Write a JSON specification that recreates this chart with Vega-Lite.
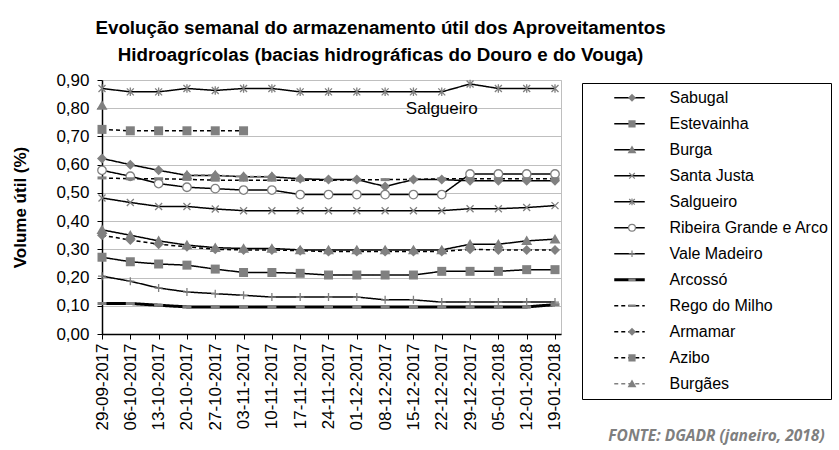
{
  "$schema": "https://vega.github.io/schema/vega-lite/v6.json",
  "width": 459,
  "height": 254,
  "autosize": {"type": "none"},
  "padding": {"left": 102, "top": 80, "right": 278, "bottom": 116},
  "background": "white",
  "title": {
    "text": ["Evolução semanal do armazenamento útil dos Aproveitamentos", "Hidroagrícolas (bacias hidrográficas do Douro e do Vouga)"],
    "font": "Liberation Sans",
    "fontSize": 18.8,
    "fontWeight": "bold",
    "color": "black",
    "anchor": "middle",
    "dx": 49,
    "offset": 6,
    "lineHeight": 27
  },
  "data": {
    "values": [
      {"series": "Sabugal", "date": "29-09-2017", "value": 0.622},
      {"series": "Sabugal", "date": "06-10-2017", "value": 0.600},
      {"series": "Sabugal", "date": "13-10-2017", "value": 0.580},
      {"series": "Sabugal", "date": "20-10-2017", "value": 0.562},
      {"series": "Sabugal", "date": "27-10-2017", "value": 0.562},
      {"series": "Sabugal", "date": "03-11-2017", "value": 0.557},
      {"series": "Sabugal", "date": "10-11-2017", "value": 0.557},
      {"series": "Sabugal", "date": "17-11-2017", "value": 0.550},
      {"series": "Sabugal", "date": "24-11-2017", "value": 0.547},
      {"series": "Sabugal", "date": "01-12-2017", "value": 0.547},
      {"series": "Sabugal", "date": "08-12-2017", "value": 0.523},
      {"series": "Sabugal", "date": "15-12-2017", "value": 0.547},
      {"series": "Sabugal", "date": "22-12-2017", "value": 0.547},
      {"series": "Sabugal", "date": "29-12-2017", "value": 0.543},
      {"series": "Sabugal", "date": "05-01-2018", "value": 0.543},
      {"series": "Sabugal", "date": "12-01-2018", "value": 0.543},
      {"series": "Sabugal", "date": "19-01-2018", "value": 0.543},
      {"series": "Estevainha", "date": "29-09-2017", "value": 0.272},
      {"series": "Estevainha", "date": "06-10-2017", "value": 0.256},
      {"series": "Estevainha", "date": "13-10-2017", "value": 0.248},
      {"series": "Estevainha", "date": "20-10-2017", "value": 0.244},
      {"series": "Estevainha", "date": "27-10-2017", "value": 0.230},
      {"series": "Estevainha", "date": "03-11-2017", "value": 0.218},
      {"series": "Estevainha", "date": "10-11-2017", "value": 0.218},
      {"series": "Estevainha", "date": "17-11-2017", "value": 0.215},
      {"series": "Estevainha", "date": "24-11-2017", "value": 0.209},
      {"series": "Estevainha", "date": "01-12-2017", "value": 0.209},
      {"series": "Estevainha", "date": "08-12-2017", "value": 0.209},
      {"series": "Estevainha", "date": "15-12-2017", "value": 0.209},
      {"series": "Estevainha", "date": "22-12-2017", "value": 0.222},
      {"series": "Estevainha", "date": "29-12-2017", "value": 0.222},
      {"series": "Estevainha", "date": "05-01-2018", "value": 0.222},
      {"series": "Estevainha", "date": "12-01-2018", "value": 0.228},
      {"series": "Estevainha", "date": "19-01-2018", "value": 0.228},
      {"series": "Burga", "date": "29-09-2017", "value": 0.369},
      {"series": "Burga", "date": "06-10-2017", "value": 0.350},
      {"series": "Burga", "date": "13-10-2017", "value": 0.330},
      {"series": "Burga", "date": "20-10-2017", "value": 0.315},
      {"series": "Burga", "date": "27-10-2017", "value": 0.306},
      {"series": "Burga", "date": "03-11-2017", "value": 0.303},
      {"series": "Burga", "date": "10-11-2017", "value": 0.303},
      {"series": "Burga", "date": "17-11-2017", "value": 0.298},
      {"series": "Burga", "date": "24-11-2017", "value": 0.298},
      {"series": "Burga", "date": "01-12-2017", "value": 0.298},
      {"series": "Burga", "date": "08-12-2017", "value": 0.298},
      {"series": "Burga", "date": "15-12-2017", "value": 0.298},
      {"series": "Burga", "date": "22-12-2017", "value": 0.298},
      {"series": "Burga", "date": "29-12-2017", "value": 0.318},
      {"series": "Burga", "date": "05-01-2018", "value": 0.318},
      {"series": "Burga", "date": "12-01-2018", "value": 0.330},
      {"series": "Burga", "date": "19-01-2018", "value": 0.336},
      {"series": "Santa Justa", "date": "29-09-2017", "value": 0.482},
      {"series": "Santa Justa", "date": "06-10-2017", "value": 0.466},
      {"series": "Santa Justa", "date": "13-10-2017", "value": 0.452},
      {"series": "Santa Justa", "date": "20-10-2017", "value": 0.452},
      {"series": "Santa Justa", "date": "27-10-2017", "value": 0.443},
      {"series": "Santa Justa", "date": "03-11-2017", "value": 0.437},
      {"series": "Santa Justa", "date": "10-11-2017", "value": 0.437},
      {"series": "Santa Justa", "date": "17-11-2017", "value": 0.437},
      {"series": "Santa Justa", "date": "24-11-2017", "value": 0.437},
      {"series": "Santa Justa", "date": "01-12-2017", "value": 0.437},
      {"series": "Santa Justa", "date": "08-12-2017", "value": 0.437},
      {"series": "Santa Justa", "date": "15-12-2017", "value": 0.437},
      {"series": "Santa Justa", "date": "22-12-2017", "value": 0.437},
      {"series": "Santa Justa", "date": "29-12-2017", "value": 0.444},
      {"series": "Santa Justa", "date": "05-01-2018", "value": 0.444},
      {"series": "Santa Justa", "date": "12-01-2018", "value": 0.448},
      {"series": "Santa Justa", "date": "19-01-2018", "value": 0.455},
      {"series": "Salgueiro", "date": "29-09-2017", "value": 0.870},
      {"series": "Salgueiro", "date": "06-10-2017", "value": 0.858},
      {"series": "Salgueiro", "date": "13-10-2017", "value": 0.858},
      {"series": "Salgueiro", "date": "20-10-2017", "value": 0.870},
      {"series": "Salgueiro", "date": "27-10-2017", "value": 0.863},
      {"series": "Salgueiro", "date": "03-11-2017", "value": 0.870},
      {"series": "Salgueiro", "date": "10-11-2017", "value": 0.870},
      {"series": "Salgueiro", "date": "17-11-2017", "value": 0.858},
      {"series": "Salgueiro", "date": "24-11-2017", "value": 0.858},
      {"series": "Salgueiro", "date": "01-12-2017", "value": 0.858},
      {"series": "Salgueiro", "date": "08-12-2017", "value": 0.858},
      {"series": "Salgueiro", "date": "15-12-2017", "value": 0.858},
      {"series": "Salgueiro", "date": "22-12-2017", "value": 0.858},
      {"series": "Salgueiro", "date": "29-12-2017", "value": 0.886},
      {"series": "Salgueiro", "date": "05-01-2018", "value": 0.870},
      {"series": "Salgueiro", "date": "12-01-2018", "value": 0.870},
      {"series": "Salgueiro", "date": "19-01-2018", "value": 0.870},
      {"series": "Ribeira Grande e Arco", "date": "29-09-2017", "value": 0.580},
      {"series": "Ribeira Grande e Arco", "date": "06-10-2017", "value": 0.559},
      {"series": "Ribeira Grande e Arco", "date": "13-10-2017", "value": 0.533},
      {"series": "Ribeira Grande e Arco", "date": "20-10-2017", "value": 0.520},
      {"series": "Ribeira Grande e Arco", "date": "27-10-2017", "value": 0.515},
      {"series": "Ribeira Grande e Arco", "date": "03-11-2017", "value": 0.510},
      {"series": "Ribeira Grande e Arco", "date": "10-11-2017", "value": 0.510},
      {"series": "Ribeira Grande e Arco", "date": "17-11-2017", "value": 0.494},
      {"series": "Ribeira Grande e Arco", "date": "24-11-2017", "value": 0.494},
      {"series": "Ribeira Grande e Arco", "date": "01-12-2017", "value": 0.494},
      {"series": "Ribeira Grande e Arco", "date": "08-12-2017", "value": 0.494},
      {"series": "Ribeira Grande e Arco", "date": "15-12-2017", "value": 0.494},
      {"series": "Ribeira Grande e Arco", "date": "22-12-2017", "value": 0.494},
      {"series": "Ribeira Grande e Arco", "date": "29-12-2017", "value": 0.567},
      {"series": "Ribeira Grande e Arco", "date": "05-01-2018", "value": 0.567},
      {"series": "Ribeira Grande e Arco", "date": "12-01-2018", "value": 0.567},
      {"series": "Ribeira Grande e Arco", "date": "19-01-2018", "value": 0.567},
      {"series": "Vale Madeiro", "date": "29-09-2017", "value": 0.205},
      {"series": "Vale Madeiro", "date": "06-10-2017", "value": 0.187},
      {"series": "Vale Madeiro", "date": "13-10-2017", "value": 0.163},
      {"series": "Vale Madeiro", "date": "20-10-2017", "value": 0.149},
      {"series": "Vale Madeiro", "date": "27-10-2017", "value": 0.143},
      {"series": "Vale Madeiro", "date": "03-11-2017", "value": 0.137},
      {"series": "Vale Madeiro", "date": "10-11-2017", "value": 0.131},
      {"series": "Vale Madeiro", "date": "17-11-2017", "value": 0.131},
      {"series": "Vale Madeiro", "date": "24-11-2017", "value": 0.131},
      {"series": "Vale Madeiro", "date": "01-12-2017", "value": 0.131},
      {"series": "Vale Madeiro", "date": "08-12-2017", "value": 0.121},
      {"series": "Vale Madeiro", "date": "15-12-2017", "value": 0.121},
      {"series": "Vale Madeiro", "date": "22-12-2017", "value": 0.113},
      {"series": "Vale Madeiro", "date": "29-12-2017", "value": 0.113},
      {"series": "Vale Madeiro", "date": "05-01-2018", "value": 0.113},
      {"series": "Vale Madeiro", "date": "12-01-2018", "value": 0.113},
      {"series": "Vale Madeiro", "date": "19-01-2018", "value": 0.113},
      {"series": "Arcossó", "date": "29-09-2017", "value": 0.108},
      {"series": "Arcossó", "date": "06-10-2017", "value": 0.108},
      {"series": "Arcossó", "date": "13-10-2017", "value": 0.102},
      {"series": "Arcossó", "date": "20-10-2017", "value": 0.096},
      {"series": "Arcossó", "date": "27-10-2017", "value": 0.096},
      {"series": "Arcossó", "date": "03-11-2017", "value": 0.096},
      {"series": "Arcossó", "date": "10-11-2017", "value": 0.096},
      {"series": "Arcossó", "date": "17-11-2017", "value": 0.096},
      {"series": "Arcossó", "date": "24-11-2017", "value": 0.096},
      {"series": "Arcossó", "date": "01-12-2017", "value": 0.096},
      {"series": "Arcossó", "date": "08-12-2017", "value": 0.096},
      {"series": "Arcossó", "date": "15-12-2017", "value": 0.096},
      {"series": "Arcossó", "date": "22-12-2017", "value": 0.096},
      {"series": "Arcossó", "date": "29-12-2017", "value": 0.096},
      {"series": "Arcossó", "date": "05-01-2018", "value": 0.096},
      {"series": "Arcossó", "date": "12-01-2018", "value": 0.096},
      {"series": "Arcossó", "date": "19-01-2018", "value": 0.104},
      {"series": "Rego do Milho", "date": "29-09-2017", "value": 0.553},
      {"series": "Rego do Milho", "date": "06-10-2017", "value": 0.550},
      {"series": "Rego do Milho", "date": "13-10-2017", "value": 0.550},
      {"series": "Rego do Milho", "date": "20-10-2017", "value": 0.548},
      {"series": "Rego do Milho", "date": "27-10-2017", "value": 0.545},
      {"series": "Rego do Milho", "date": "03-11-2017", "value": 0.545},
      {"series": "Rego do Milho", "date": "10-11-2017", "value": 0.545},
      {"series": "Rego do Milho", "date": "17-11-2017", "value": 0.545},
      {"series": "Rego do Milho", "date": "24-11-2017", "value": 0.545},
      {"series": "Rego do Milho", "date": "01-12-2017", "value": 0.546},
      {"series": "Rego do Milho", "date": "08-12-2017", "value": 0.547},
      {"series": "Rego do Milho", "date": "15-12-2017", "value": 0.548},
      {"series": "Rego do Milho", "date": "22-12-2017", "value": 0.550},
      {"series": "Rego do Milho", "date": "29-12-2017", "value": 0.550},
      {"series": "Rego do Milho", "date": "05-01-2018", "value": 0.550},
      {"series": "Rego do Milho", "date": "12-01-2018", "value": 0.550},
      {"series": "Rego do Milho", "date": "19-01-2018", "value": 0.550},
      {"series": "Armamar", "date": "29-09-2017", "value": 0.350},
      {"series": "Armamar", "date": "06-10-2017", "value": 0.333},
      {"series": "Armamar", "date": "13-10-2017", "value": 0.318},
      {"series": "Armamar", "date": "20-10-2017", "value": 0.309},
      {"series": "Armamar", "date": "27-10-2017", "value": 0.300},
      {"series": "Armamar", "date": "03-11-2017", "value": 0.298},
      {"series": "Armamar", "date": "10-11-2017", "value": 0.298},
      {"series": "Armamar", "date": "17-11-2017", "value": 0.295},
      {"series": "Armamar", "date": "24-11-2017", "value": 0.292},
      {"series": "Armamar", "date": "01-12-2017", "value": 0.292},
      {"series": "Armamar", "date": "08-12-2017", "value": 0.292},
      {"series": "Armamar", "date": "15-12-2017", "value": 0.292},
      {"series": "Armamar", "date": "22-12-2017", "value": 0.292},
      {"series": "Armamar", "date": "29-12-2017", "value": 0.300},
      {"series": "Armamar", "date": "05-01-2018", "value": 0.298},
      {"series": "Armamar", "date": "12-01-2018", "value": 0.298},
      {"series": "Armamar", "date": "19-01-2018", "value": 0.298},
      {"series": "Azibo", "date": "29-09-2017", "value": 0.725},
      {"series": "Azibo", "date": "06-10-2017", "value": 0.720},
      {"series": "Azibo", "date": "13-10-2017", "value": 0.720},
      {"series": "Azibo", "date": "20-10-2017", "value": 0.720},
      {"series": "Azibo", "date": "27-10-2017", "value": 0.720},
      {"series": "Azibo", "date": "03-11-2017", "value": 0.720},
      {"series": "Burgães", "date": "29-09-2017", "value": 0.810},
      {"series": "Burgães", "date": "06-10-2017", "value": null},
      {"series": "Burgães", "date": "13-10-2017", "value": null},
      {"series": "Burgães", "date": "20-10-2017", "value": 0.563},
      {"series": "Burgães", "date": "27-10-2017", "value": 0.563},
      {"series": "Burgães", "date": "03-11-2017", "value": 0.558},
      {"series": "Burgães", "date": "10-11-2017", "value": 0.558}
    ]
  },
  "encoding": {
    "x": {
      "field": "date",
      "type": "ordinal",
      "scale": {
        "type": "point",
        "domain": ["29-09-2017", "06-10-2017", "13-10-2017", "20-10-2017", "27-10-2017", "03-11-2017", "10-11-2017", "17-11-2017", "24-11-2017", "01-12-2017", "08-12-2017", "15-12-2017", "22-12-2017", "29-12-2017", "05-01-2018", "12-01-2018", "19-01-2018"],
        "padding": 0.106,
        "align": 0
      },
      "axis": {
        "title": "FONTE: DGADR (janeiro, 2018)",
        "titleX": 614,
        "titleY": 101,
        "titleAlign": "center",
        "titleBaseline": "middle",
        "titleAnchor": null,
        "titleFont": "Open Sans",
        "titleFontStyle": "italic",
        "titleFontWeight": "bold",
        "titleFontSize": 15.5,
        "titleColor": "#7f7f7f",
        "labelAngle": -90,
        "labelAlign": "right",
        "labelBaseline": "middle",
        "labelFont": "Liberation Sans",
        "labelFontSize": 17,
        "labelColor": "black",
        "labelPadding": 4,
        "labelOverlap": false,
        "tickColor": "black",
        "tickSize": 5,
        "domainColor": "black",
        "domainWidth": 1.5,
        "grid": false
      }
    },
    "y": {
      "field": "value",
      "type": "quantitative",
      "scale": {"domain": [0, 0.9], "nice": false, "zero": true},
      "axis": {
        "title": "Volume útil (%)",
        "titleFont": "Liberation Sans",
        "titleFontSize": 17,
        "titleFontWeight": "bold",
        "titleColor": "black",
        "titlePadding": 26,
        "values": [0, 0.1, 0.2, 0.3, 0.4, 0.5, 0.6, 0.7, 0.8, 0.9],
        "labelExpr": "replace(format(datum.value, '.2f'), '.', ',')",
        "labelFont": "Liberation Sans",
        "labelFontSize": 17,
        "labelColor": "black",
        "labelPadding": 8,
        "tickColor": "black",
        "tickSize": 5,
        "domainColor": "black",
        "domainWidth": 1.5,
        "gridColor": "#bfbfbf",
        "gridWidth": 1
      }
    }
  },
  "layer": [
    {
      "mark": {"type": "line", "invalid": "break-paths-filter-domains"},
      "encoding": {
        "color": {
          "field": "series",
          "type": "nominal",
          "scale": {
            "domain": ["Sabugal", "Estevainha", "Burga", "Santa Justa", "Salgueiro", "Ribeira Grande e Arco", "Vale Madeiro", "Arcossó", "Rego do Milho", "Armamar", "Azibo", "Burgães"],
            "range": ["black", "black", "black", "black", "black", "black", "black", "black", "black", "black", "black", "#808080"]
          },
          "legend": {
            "orient": "none",
            "legendX": 480,
            "legendY": 3,
            "title": null,
            "padding": 2,
            "clipHeight": 25.6,
            "rowPadding": 0,
            "strokeColor": "black",
            "fillColor": "white",
            "symbolType": "M-3.05,0H3.05",
            "symbolSize": 100,
            "symbolStrokeWidth": 1.5,
            "symbolOffset": 37.5,
            "labelOffset": 32,
            "labelFont": "Liberation Sans",
            "labelFontSize": 16,
            "labelColor": "black",
            "labelLimit": 300,
            "encode": {"symbols": {"update": {"strokeWidth": {"signal": "datum.value === 'Arcossó' ? 3 : 1.5"}}}}
          }
        },
        "strokeDash": {
          "field": "series",
          "type": "nominal",
          "scale": {
            "domain": ["Sabugal", "Estevainha", "Burga", "Santa Justa", "Salgueiro", "Ribeira Grande e Arco", "Vale Madeiro", "Arcossó", "Rego do Milho", "Armamar", "Azibo", "Burgães"],
            "range": [[1, 0], [1, 0], [1, 0], [1, 0], [1, 0], [1, 0], [1, 0], [1, 0], [4, 3], [4, 3], [4, 3], [4, 3]]
          }
        },
        "strokeWidth": {
          "condition": {"test": "datum.series === 'Arcossó'", "value": 3},
          "value": 1.5
        }
      }
    },
    {
      "mark": {"type": "point", "opacity": 1, "size": 100, "strokeWidth": 1.3},
      "encoding": {
        "shape": {
          "field": "series",
          "type": "nominal",
          "sort": null,
          "scale": {
            "range": [
              "M-1,0L0,-1L1,0L0,1Z",
              "M-0.9,-0.9H0.9V0.9H-0.9Z",
              "M0,-1.05L1.1,0.85H-1.1Z",
              "M-0.7,-0.7L0.7,0.7M-0.7,0.7L0.7,-0.7",
              "M-0.7,-0.7L0.7,0.7M-0.7,0.7L0.7,-0.7M0,-0.85V0.85",
              "M0.85,0A0.85,0.85 0 1,1 -0.85,0A0.85,0.85 0 1,1 0.85,0Z",
              "M-0.8,0H0.8M0,-0.8V0.8",
              "M-0.9,-0.3H0.9V0.3H-0.9Z",
              "M-0.9,-0.3H0.9V0.3H-0.9Z",
              "M-1,0L0,-1L1,0L0,1Z",
              "M-0.9,-0.9H0.9V0.9H-0.9Z",
              "M0,-1.05L1.1,0.85H-1.1Z"
            ]
          },
          "legend": {
            "orient": "none",
            "legendX": 480,
            "legendY": 3,
            "title": null,
            "padding": 2,
            "clipHeight": 25.6,
            "rowPadding": 0,
            "symbolSize": 64,
            "symbolStrokeWidth": 1.2,
            "symbolOffset": 40,
            "labelOffset": 32,
            "labelFont": "Liberation Sans",
            "labelFontSize": 16,
            "labelExpr": "''",
            "labelLimit": 300
          }
        },
        "fill": {
          "field": "series",
          "type": "nominal",
          "sort": null,
          "scale": {
            "range": ["#808080", "#808080", "#808080", "transparent", "transparent", "white", "transparent", "#808080", "#808080", "#808080", "#808080", "#808080"]
          },
          "legend": {
            "orient": "none",
            "legendX": 480,
            "legendY": 3,
            "title": null,
            "padding": 2,
            "clipHeight": 25.6,
            "rowPadding": 0,
            "symbolSize": 64,
            "symbolStrokeWidth": 1.2,
            "symbolOffset": 40,
            "labelOffset": 32,
            "labelFont": "Liberation Sans",
            "labelFontSize": 16,
            "labelExpr": "''",
            "labelLimit": 300
          }
        },
        "stroke": {
          "field": "series",
          "type": "nominal",
          "sort": null,
          "scale": {
            "range": ["transparent", "transparent", "transparent", "#808080", "#808080", "#808080", "#808080", "transparent", "transparent", "transparent", "transparent", "transparent"]
          },
          "legend": {
            "orient": "none",
            "legendX": 480,
            "legendY": 3,
            "title": null,
            "padding": 2,
            "clipHeight": 25.6,
            "rowPadding": 0,
            "symbolSize": 64,
            "symbolStrokeWidth": 1.2,
            "symbolOffset": 40,
            "labelOffset": 32,
            "labelFont": "Liberation Sans",
            "labelFontSize": 16,
            "labelExpr": "''",
            "labelLimit": 300
          }
        }
      }
    },
    {
      "data": {"values": [{"date": "22-12-2017", "value": 0.797, "label": "Salgueiro"}]},
      "mark": {"type": "text", "font": "Liberation Sans", "fontSize": 17, "color": "black", "align": "center", "baseline": "middle"},
      "encoding": {"text": {"field": "label"}}
    }
  ],
  "config": {
    "view": {"stroke": "#bfbfbf", "strokeWidth": 1},
    "font": "Liberation Sans"
  }
}
